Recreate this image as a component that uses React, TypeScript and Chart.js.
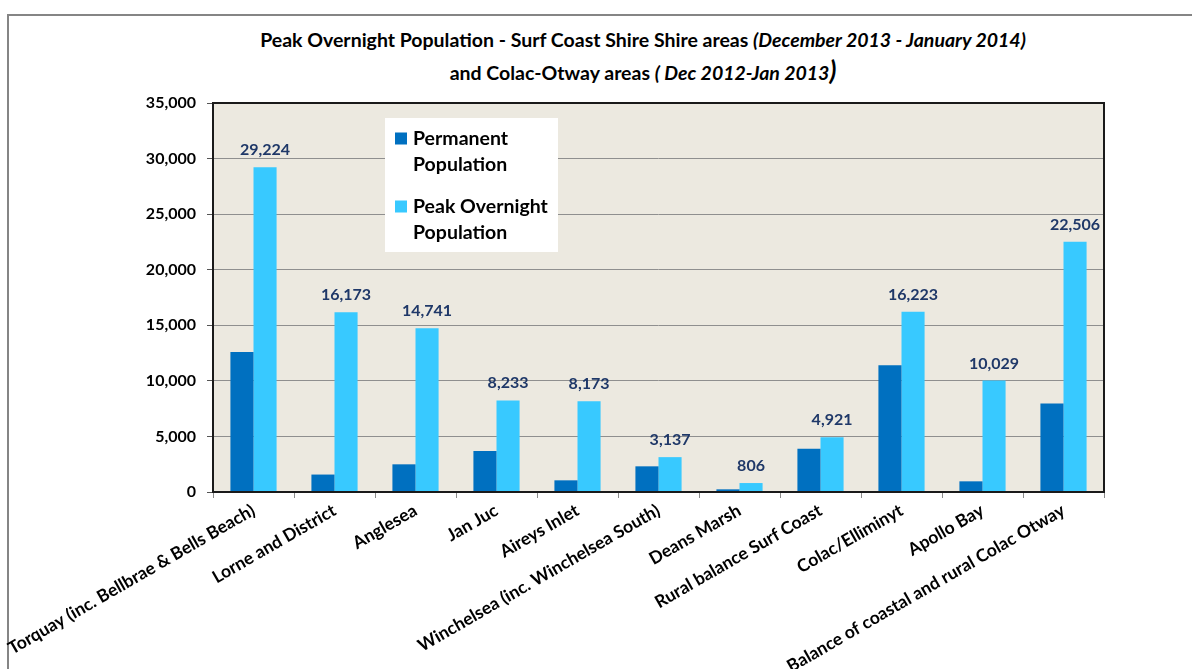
import React, { useEffect, useRef } from "react";
import { Chart, registerables } from "chart.js";

Chart.register(...registerables);

const categories = [
  "Torquay (inc. Bellbrae & Bells Beach)",
  "Lorne and District",
  "Anglesea",
  "Jan Juc",
  "Aireys Inlet",
  "Winchelsea (inc. Winchelsea South)",
  "Deans Marsh",
  "Rural balance Surf Coast",
  "Colac/Elliminyt",
  "Apollo Bay",
  "Balance of coastal and rural Colac Otway",
];
const permanentPopulation = [12600, 1570, 2490, 3690, 1050, 2310, 240, 3900, 11400, 960, 7960];
const peakOvernightPopulation = [29224, 16173, 14741, 8233, 8173, 3137, 806, 4921, 16223, 10029, 22506];
const seriesNames = ["Permanent Population", "Peak Overnight Population"];
const legendLines = [
  ["Permanent", "Population"],
  ["Peak Overnight", "Population"],
];
const yMin = 0;
const yMax = 35000;
const yStep = 5000;

const FONT = "Lato, 'Open Sans', sans-serif";

const backgroundPlugin = {
  id: "plotBg",
  beforeDraw(chart: any) {
    const { ctx, chartArea: a } = chart;
    ctx.save();
    ctx.fillStyle = "#ECE9E0";
    ctx.fillRect(a.left, a.top, a.right - a.left, a.bottom - a.top);
    ctx.restore();
  },
};

const frameAndLabelsPlugin = {
  id: "frameLabels",
  afterDatasetsDraw(chart: any) {
    const { ctx, chartArea: a } = chart;
    ctx.save();
    ctx.strokeStyle = "#1a1a1a";
    ctx.lineWidth = 2;
    ctx.strokeRect(a.left, a.top, a.right - a.left, a.bottom - a.top);
    const meta = chart.getDatasetMeta(1);
    ctx.font = `bold 16px ${FONT}`;
    ctx.fillStyle = "#1F3868";
    ctx.textAlign = "center";
    ctx.textBaseline = "alphabetic";
    meta.data.forEach((el: any, i: number) => {
      const v = chart.data.datasets[1].data[i] as number;
      ctx.fillText(v.toLocaleString("en-US"), el.x, el.y - 12);
    });
    const x0 = a.left + 172;
    const y0 = a.top + 15;
    const w = 173;
    const h = 134;
    ctx.fillStyle = "#ffffff";
    ctx.fillRect(x0, y0, w, h);
    ctx.font = `bold 19.5px ${FONT}`;
    ctx.textAlign = "left";
    ctx.textBaseline = "middle";
    chart.data.datasets.forEach((ds: any, i: number) => {
      const cy = y0 + 20.5 + i * 68;
      ctx.fillStyle = ds.backgroundColor;
      ctx.fillRect(x0 + 10, cy - 6, 12, 12);
      ctx.fillStyle = "#000";
      legendLines[i].forEach((ln, j) => ctx.fillText(ln, x0 + 28, cy + j * 26));
    });
    ctx.restore();
  },
};

export default function App() {
  const ref = useRef<HTMLCanvasElement | null>(null);

  useEffect(() => {
    if (!ref.current) return;
    const chart = new Chart(ref.current, {
      type: "bar",
      data: {
        labels: categories,
        datasets: [
          {
            label: seriesNames[0],
            data: permanentPopulation,
            backgroundColor: "#0070C0",
            categoryPercentage: 0.57,
            barPercentage: 1,
          },
          {
            label: seriesNames[1],
            data: peakOvernightPopulation,
            backgroundColor: "#38C9FF",
            categoryPercentage: 0.57,
            barPercentage: 1,
          },
        ],
      },
      options: {
        animation: false,
        responsive: false,
        maintainAspectRatio: false,
        layout: { padding: { left: 0, top: 103, right: 88, bottom: 0 } },
        plugins: {
          legend: { display: false },
          title: { display: false },
          tooltip: { enabled: false },
        },
        scales: {
          x: {
            grid: {
              display: true,
              drawOnChartArea: false,
              offset: true,
              tickLength: 6,
              color: "#8a8a8a",
              tickColor: "#8a8a8a",
            },
            border: { display: false },
            ticks: {
              autoSkip: false,
              minRotation: 30,
              maxRotation: 30,
              padding: 2,
              color: "#000",
              font: { family: FONT, weight: "bold", size: 17.5 },
            },
            afterFit(s: any) {
              s.height = 177;
              s.paddingLeft = 0;
              s.paddingRight = 0;
            },
          },
          y: {
            min: yMin,
            max: yMax,
            ticks: {
              stepSize: yStep,
              padding: 11,
              color: "#000",
              font: { family: FONT, weight: "bold", size: 16 },
              callback: (v: any) => Number(v).toLocaleString("en-US"),
            },
            grid: {
              color: "#8f8f8f",
              tickLength: 6,
              tickColor: "#555",
            },
            border: { display: false },
            afterFit(s: any) {
              s.width = 213;
            },
          },
        },
      },
      plugins: [backgroundPlugin, frameAndLabelsPlugin],
    });
    return () => chart.destroy();
  }, []);

  return (
    <div style={{ position: "absolute", left: 0, top: 0, width: 1192, height: 669, overflow: "hidden", background: "#fff" }}>
      <div
        style={{
          position: "absolute",
          left: 7,
          top: 14,
          width: 1185,
          height: 655,
          boxSizing: "border-box",
          borderTop: "2px solid #858585",
          borderLeft: "2px solid #858585",
        }}
      />
      <div
        style={{
          position: "absolute",
          left: 0,
          top: 24,
          width: 1286,
          textAlign: "center",
          fontFamily: FONT,
          fontWeight: "bold",
          fontSize: 19.5,
          lineHeight: "31px",
          color: "#000",
        }}
      >
        <div>
          Peak Overnight Population - Surf Coast Shire Shire areas <i>(December 2013 - January 2014)</i>
        </div>
        <div>
          and Colac-Otway areas <i>( Dec 2012-Jan 2013</i>
          <i style={{ fontSize: 26 }}>)</i>
        </div>
      </div>
      <canvas ref={ref} width={1192} height={669} style={{ position: "absolute", left: 0, top: 0 }} />
    </div>
  );
}
